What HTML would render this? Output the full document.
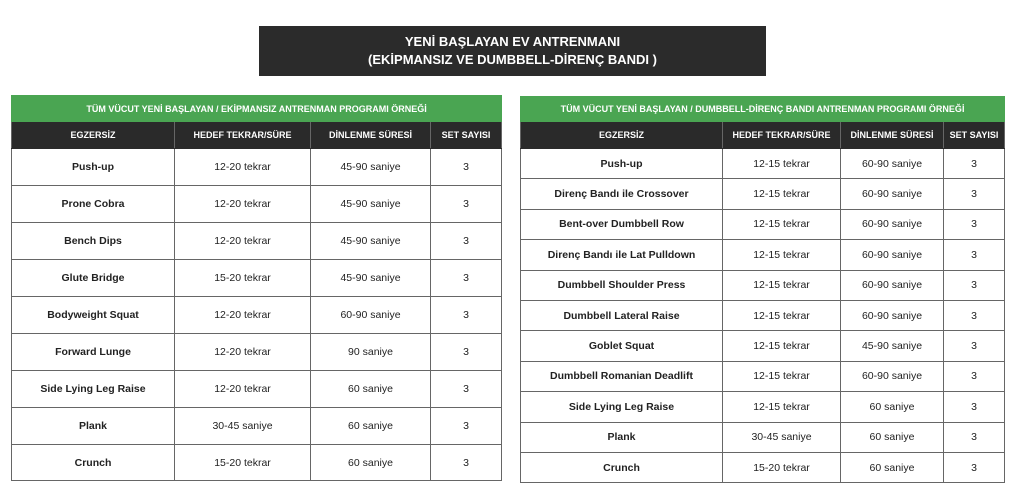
<!DOCTYPE html>
<html><head><meta charset="utf-8"><style>
*{margin:0;padding:0;box-sizing:border-box}
body{width:1024px;height:495px;background:#fff;font-family:"Liberation Sans",sans-serif;position:relative;overflow:hidden}
.title{position:absolute;left:259px;top:26px;width:507px;height:50px;background:#2b2b2b;color:#fff;font-weight:bold;font-size:13px;text-align:center;line-height:18px;padding-top:7px}
table{position:absolute;border-collapse:collapse;table-layout:fixed}
td,th{text-align:center;font-size:10.5px;color:#222;border:1px solid #666}
th{background:#2a2a2a;color:#fff;font-size:9px;font-weight:bold;border-color:#2a2a2a #666}
.g{background:#4aa552;color:#fff;font-size:9px;font-weight:bold;border:1px solid #4aa552}
td.n{font-weight:bold}
</style></head><body>
<div class="title">YENİ BAŞLAYAN EV ANTRENMANI<br>(EKİPMANSIZ VE DUMBBELL-DİRENÇ BANDI )</div>
<table style="left:11px;top:95px;width:490px">
<colgroup><col style="width:163px"><col style="width:136px"><col style="width:120px"><col style="width:71px"></colgroup>
<tr style="height:26px"><td class="g" colspan="4">TÜM VÜCUT YENİ BAŞLAYAN / EKİPMANSIZ ANTRENMAN PROGRAMI ÖRNEĞİ</td></tr>
<tr style="height:27px"><th>EGZERSİZ</th><th>HEDEF TEKRAR/SÜRE</th><th>DİNLENME SÜRESİ</th><th>SET SAYISI</th></tr>
<tr style="height:37px"><td class="n">Push-up</td><td>12-20 tekrar</td><td>45-90 saniye</td><td>3</td></tr>
<tr style="height:37px"><td class="n">Prone Cobra</td><td>12-20 tekrar</td><td>45-90 saniye</td><td>3</td></tr>
<tr style="height:37px"><td class="n">Bench Dips</td><td>12-20 tekrar</td><td>45-90 saniye</td><td>3</td></tr>
<tr style="height:37px"><td class="n">Glute Bridge</td><td>15-20 tekrar</td><td>45-90 saniye</td><td>3</td></tr>
<tr style="height:37px"><td class="n">Bodyweight Squat</td><td>12-20 tekrar</td><td>60-90 saniye</td><td>3</td></tr>
<tr style="height:37px"><td class="n">Forward Lunge</td><td>12-20 tekrar</td><td>90 saniye</td><td>3</td></tr>
<tr style="height:37px"><td class="n">Side Lying Leg Raise</td><td>12-20 tekrar</td><td>60 saniye</td><td>3</td></tr>
<tr style="height:37px"><td class="n">Plank</td><td>30-45 saniye</td><td>60 saniye</td><td>3</td></tr>
<tr style="height:36px"><td class="n">Crunch</td><td>15-20 tekrar</td><td>60 saniye</td><td>3</td></tr>
</table>
<table style="left:520px;top:96px;width:484px">
<colgroup><col style="width:202px"><col style="width:118px"><col style="width:103px"><col style="width:61px"></colgroup>
<tr style="height:25px"><td class="g" colspan="4">TÜM VÜCUT YENİ BAŞLAYAN / DUMBBELL-DİRENÇ BANDI ANTRENMAN PROGRAMI ÖRNEĞİ</td></tr>
<tr style="height:27px"><th>EGZERSİZ</th><th>HEDEF TEKRAR/SÜRE</th><th>DİNLENME SÜRESİ</th><th>SET SAYISI</th></tr>
<tr style="height:30.4px"><td class="n">Push-up</td><td>12-15 tekrar</td><td>60-90 saniye</td><td>3</td></tr>
<tr style="height:30.4px"><td class="n">Direnç Bandı ile Crossover</td><td>12-15 tekrar</td><td>60-90 saniye</td><td>3</td></tr>
<tr style="height:30.4px"><td class="n">Bent-over Dumbbell Row</td><td>12-15 tekrar</td><td>60-90 saniye</td><td>3</td></tr>
<tr style="height:30.4px"><td class="n">Direnç Bandı ile Lat Pulldown</td><td>12-15 tekrar</td><td>60-90 saniye</td><td>3</td></tr>
<tr style="height:30.4px"><td class="n">Dumbbell Shoulder Press</td><td>12-15 tekrar</td><td>60-90 saniye</td><td>3</td></tr>
<tr style="height:30.4px"><td class="n">Dumbbell Lateral Raise</td><td>12-15 tekrar</td><td>60-90 saniye</td><td>3</td></tr>
<tr style="height:30.4px"><td class="n">Goblet Squat</td><td>12-15 tekrar</td><td>45-90 saniye</td><td>3</td></tr>
<tr style="height:30.4px"><td class="n">Dumbbell Romanian Deadlift</td><td>12-15 tekrar</td><td>60-90 saniye</td><td>3</td></tr>
<tr style="height:30.4px"><td class="n">Side Lying Leg Raise</td><td>12-15 tekrar</td><td>60 saniye</td><td>3</td></tr>
<tr style="height:30.4px"><td class="n">Plank</td><td>30-45 saniye</td><td>60 saniye</td><td>3</td></tr>
<tr style="height:30.4px"><td class="n">Crunch</td><td>15-20 tekrar</td><td>60 saniye</td><td>3</td></tr>
</table>
</body></html>
